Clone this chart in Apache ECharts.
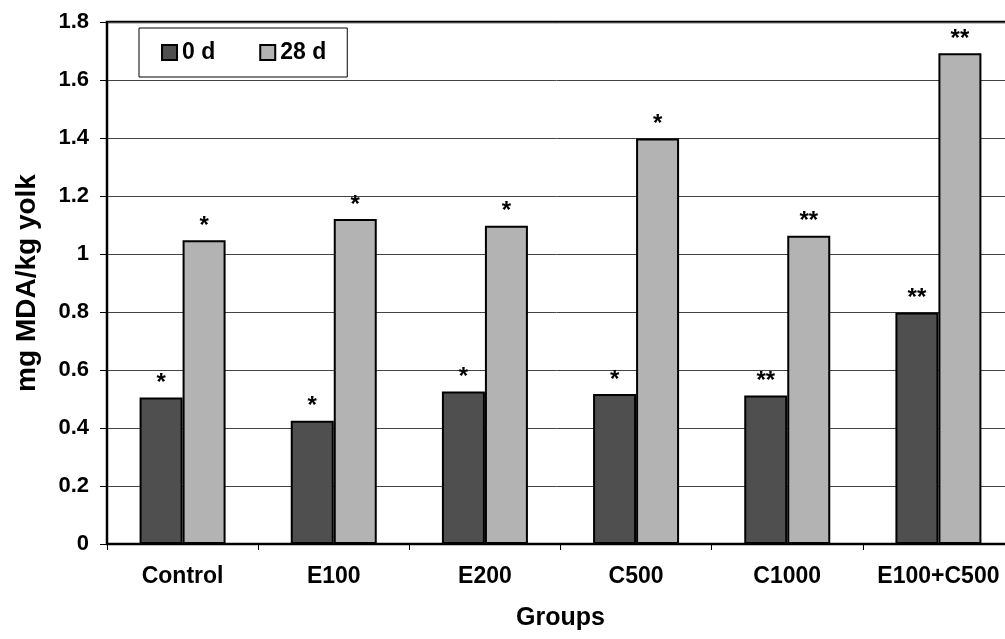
<!DOCTYPE html>
<html>
<head>
<meta charset="utf-8">
<script src="https://cdn.jsdelivr.net/npm/echarts@6/dist/echarts.min.js"></script>
<style>
  html, body { margin: 0; padding: 0; background: #fff; }
  #chart { width: 1005px; height: 639px; }
</style>
</head>
<body>
<div id="chart"></div>
<script>
const categories = ['Control', 'E100', 'E200', 'C500', 'C1000', 'E100+C500'];
const seriesNames = ['0 d', '28 d'];
const values0d = [0.505, 0.425, 0.526, 0.517, 0.512, 0.798];
const values28d = [1.047, 1.121, 1.097, 1.398, 1.063, 1.692];
const stars0d = ['*', '*', '*', '*', '**', '**'];
const stars28d = ['*', '*', '*', '*', '**', '**'];
const yTicks = [0, 0.2, 0.4, 0.6, 0.8, 1, 1.2, 1.4, 1.6, 1.8];

const FONT = "'Liberation Sans', Arial, sans-serif";

function buildData(vals, stars) {
  return vals.map((v, i) => ({ value: v, label: { formatter: stars[i] } }));
}

const chart = echarts.init(document.getElementById('chart'), null, { renderer: 'canvas' });

const barLabel = {
  show: true,
  position: 'top',
  distance: 2,
  color: '#000',
  fontFamily: FONT,
  fontWeight: 'bold',
  fontSize: 24
};

chart.setOption({
  backgroundColor: '#fff',
  animation: false,
  legend: {
    data: seriesNames,
    left: 139,
    top: 28,
    orient: 'horizontal',
    padding: [13, 21, 13, 22],
    itemGap: 44,
    itemWidth: 15,
    itemHeight: 15,
    icon: 'rect',
    borderColor: '#000',
    borderWidth: 1,
    backgroundColor: '#fff',
    textStyle: { fontFamily: FONT, fontWeight: 'bold', fontSize: 23, color: '#000' }
  },
  grid: {
    left: 107,
    top: 22,
    width: 907,
    height: 522,
    outerBoundsMode: 'none',
    containLabel: false,
    show: true,
    borderColor: '#000',
    borderWidth: 2.5,
    backgroundColor: 'transparent'
  },
  xAxis: {
    type: 'category',
    data: categories,
    name: 'Groups',
    nameLocation: 'middle',
    nameGap: 62,
    nameTextStyle: { fontFamily: FONT, fontWeight: 'bold', fontSize: 25, color: '#000' },
    axisLine: { lineStyle: { color: '#000', width: 2 } },
    axisTick: { show: true, length: 6, interval: 0, lineStyle: { color: '#000', width: 1 } },
    axisLabel: { interval: 0, margin: 21, fontFamily: FONT, fontWeight: 'bold', fontSize: 23, color: '#000' },
    splitLine: { show: false }
  },
  yAxis: {
    type: 'value',
    min: 0,
    max: 1.8,
    interval: 0.2,
    name: 'mg MDA/kg yolk',
    nameLocation: 'middle',
    nameGap: 66,
    nameTextStyle: { fontFamily: FONT, fontWeight: 'bold', fontSize: 28, color: '#000' },
    axisLine: { show: true, lineStyle: { color: '#000', width: 2 } },
    axisTick: { show: true, inside: false, length: 7, lineStyle: { color: '#000', width: 1 } },
    axisLabel: {
      margin: 18,
      fontFamily: FONT, fontWeight: 'bold', fontSize: 22, color: '#000',
      formatter: function (v) {
        const r = Math.round(v * 10) / 10;
        const idx = yTicks.indexOf(r);
        return idx >= 0 ? String(yTicks[idx]) : '';
      }
    },
    splitLine: { show: true, lineStyle: { color: '#444', width: 1 } }
  },
  series: [
    {
      name: seriesNames[0],
      type: 'bar',
      data: buildData(values0d, stars0d),
      barWidth: 43,
      barGap: '0%',
      itemStyle: { color: '#4f4f4f', borderColor: '#000', borderWidth: 2 },
      label: barLabel
    },
    {
      name: seriesNames[1],
      type: 'bar',
      data: buildData(values28d, stars28d),
      barWidth: 43,
      barGap: '0%',
      itemStyle: { color: '#b3b3b3', borderColor: '#000', borderWidth: 2 },
      label: barLabel
    }
  ]
});
</script>
</body>
</html>
